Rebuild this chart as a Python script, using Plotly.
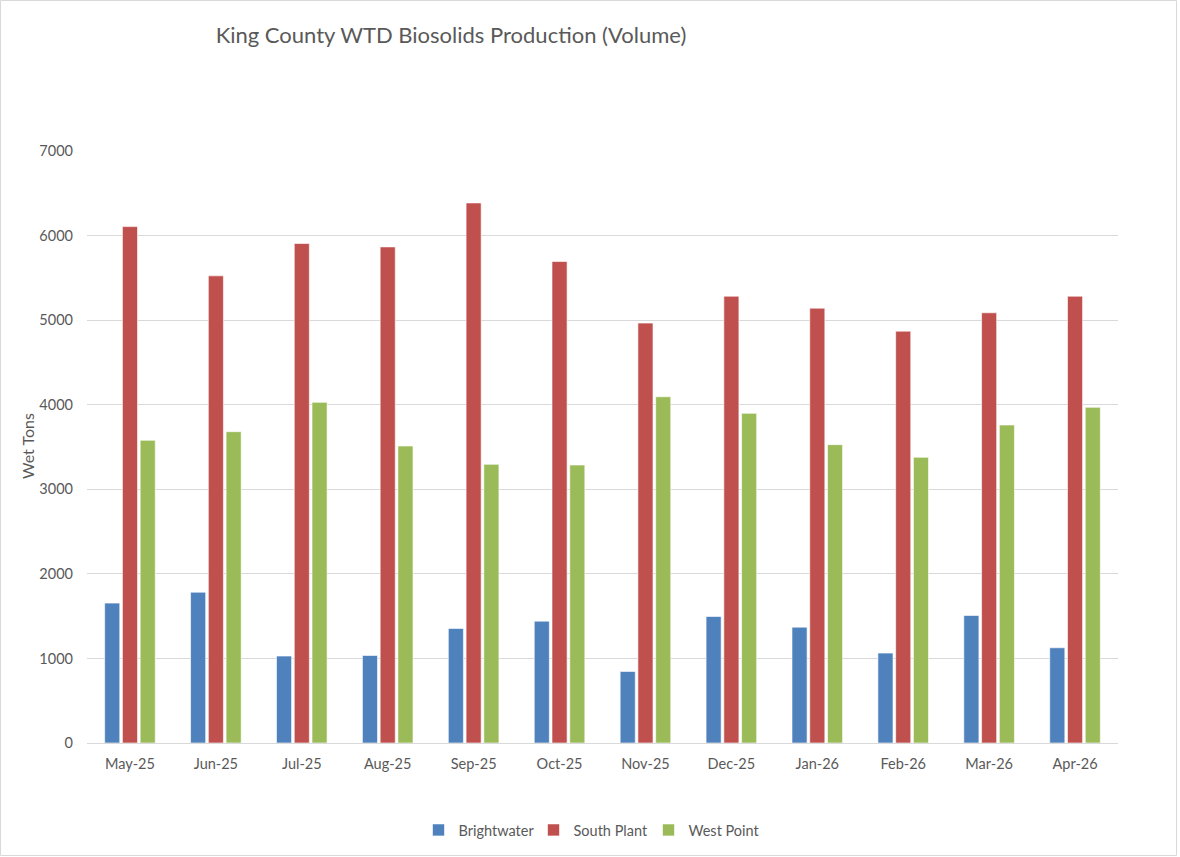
import plotly.graph_objects as go

months = ["May-25", "Jun-25", "Jul-25", "Aug-25", "Sep-25", "Oct-25",
          "Nov-25", "Dec-25", "Jan-26", "Feb-26", "Mar-26", "Apr-26"]
brightwater = [1654, 1783, 1028, 1035, 1354, 1441, 846, 1496, 1370, 1063, 1508, 1126]
south_plant = [6106, 5524, 5906, 5866, 6386, 5693, 4965, 5283, 5142, 4870, 5087, 5283]
west_point = [3579, 3681, 4028, 3512, 3295, 3287, 4094, 3898, 3528, 3378, 3760, 3969]

series = [("Brightwater", brightwater, "#4F81BD"),
          ("South Plant", south_plant, "#C0504D"),
          ("West Point", west_point, "#9BBB59")]

W, H = 1180, 857
L, R, T, B = 87, 62, 151, 114
pw, ph = W - L - R, H - T - B

fig = go.Figure()
for name, vals, col in series:
    fig.add_trace(go.Bar(x=months, y=vals, name=name,
                         marker=dict(color=col, line=dict(color="rgba(255,255,255,0.6)", width=1))))

FONT = "Lato, Open Sans, sans-serif"
GREY = "#595959"

fig.update_layout(
    width=W, height=H,
    margin=dict(l=L, r=R, t=T, b=B),
    paper_bgcolor="white", plot_bgcolor="white",
    barmode="group", bargap=0.38, bargroupgap=0.15,
    font=dict(family=FONT, color=GREY, size=14.5),
    title=dict(text="King County WTD Biosolids Production (Volume)",
               x=451 / W, xanchor="center", xref="container",
               y=1 - 35 / H, yanchor="middle", yref="container",
               font=dict(size=22, color=GREY, family=FONT)),
    legend=dict(orientation="h", x=591 / W, xanchor="center", xref="container",
                y=1 - 830 / H, yanchor="middle", yref="container",
                font=dict(size=14.5, color=GREY), itemwidth=30,
                entrywidth=70, entrywidthmode="pixels",
                traceorder="normal"),
    xaxis=dict(showgrid=False, showline=True, linecolor="#D9D9D9", linewidth=1,
               ticks="", tickfont=dict(size=14.5, color=GREY), ticklabelstandoff=8),
    yaxis=dict(range=[0, 7000], dtick=1000, tick0=0, showgrid=True,
               gridcolor="#D9D9D9", gridwidth=1, zeroline=False, showline=False,
               ticks="", tickfont=dict(size=14.5, color=GREY), ticklabelstandoff=13),
    showlegend=True,
)

fig.add_annotation(text="Wet Tons", textangle=-90, showarrow=False,
                   xref="paper", yref="paper",
                   x=(27 - L) / pw, y=(H - B - 446) / ph,
                   xanchor="center", yanchor="middle",
                   font=dict(size=16, color=GREY, family=FONT))

fig.add_shape(type="rect", xref="paper", yref="paper",
              x0=(0.5 - L) / pw, x1=(W - 3.5 - L) / pw,
              y0=(H - B - (H - 1.5)) / ph, y1=(H - B - 0.5) / ph,
              line=dict(color="#D9D9D9", width=1), fillcolor="rgba(0,0,0,0)",
              layer="below")

fig.write_html("out.html")
